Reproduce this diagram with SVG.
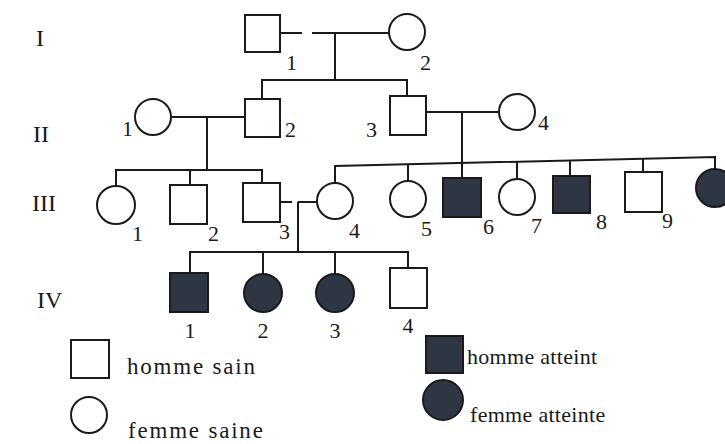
<svg xmlns="http://www.w3.org/2000/svg" width="725" height="444" viewBox="0 0 725 444">
<style>
.s{fill:#fff;stroke:#1a1a1a;stroke-width:2}
.a{fill:#2e3644;stroke:#1a1a1a;stroke-width:2}
.c line,.c polyline{stroke:#1a1a1a;stroke-width:2;fill:none}
text{font-family:"Liberation Serif","Times New Roman",serif;fill:#1a1a1a}
.n{font-size:22px}
.g{font-size:24px}
.l{font-size:23px;letter-spacing:1.8px}
.r{font-size:22px;letter-spacing:0.3px}
</style>
<rect width="725" height="444" fill="#fff"/>
<g id="gen-labels">
<text class="g" x="36" y="46">I</text>
<text class="g" x="33" y="142">II</text>
<text class="g" x="32" y="211">III</text>
<text class="g" x="37" y="308">IV</text>
</g>
<g class="c" id="connectors">
<line x1="280" y1="33" x2="302" y2="33"/>
<line x1="312" y1="33" x2="389" y2="33"/>
<line x1="335" y1="33" x2="335" y2="80"/>
<polyline points="262,99 262,80 407,80 407,96"/>
<line x1="171" y1="117" x2="245" y2="117"/>
<line x1="207" y1="117" x2="207" y2="170"/>
<line x1="426" y1="112" x2="499" y2="112"/>
<line x1="462" y1="112" x2="462" y2="178"/>
<polyline points="116,186 116,170 262,170 262,183"/>
<line x1="190" y1="170" x2="190" y2="185"/>
<line x1="280" y1="202" x2="292" y2="202"/>
<line x1="298" y1="202" x2="317" y2="202"/>
<line x1="298" y1="202" x2="298" y2="252"/>
<polyline points="335,183 335,166 715,157 715,169"/>
<line x1="408" y1="164" x2="408" y2="181"/>
<line x1="517" y1="162" x2="517" y2="179"/>
<line x1="570" y1="161" x2="570" y2="176"/>
<line x1="643" y1="159" x2="643" y2="172"/>
<polyline points="190,273 190,252 408,252 408,268"/>
<line x1="263" y1="252" x2="263" y2="274"/>
<line x1="335" y1="252" x2="335" y2="274"/>
</g>
<g id="I-1"><rect class="s" x="245" y="15" width="35" height="37"/><text class="n" x="286" y="70">1</text></g>
<g id="I-2"><circle class="s" cx="407" cy="32" r="18"/><text class="n" x="420" y="70">2</text></g>
<g id="II-1"><circle class="s" cx="153" cy="117" r="18"/><text class="n" x="122" y="136">1</text></g>
<g id="II-2"><rect class="s" x="245" y="99" width="35" height="38"/><text class="n" x="285" y="137">2</text></g>
<g id="II-3"><rect class="s" x="390" y="96" width="36" height="39"/><text class="n" x="366" y="137">3</text></g>
<g id="II-4"><circle class="s" cx="517" cy="112" r="18"/><text class="n" x="538" y="130">4</text></g>
<g id="III-1"><circle class="s" cx="116" cy="205" r="19"/><text class="n" x="132" y="241">1</text></g>
<g id="III-2"><rect class="s" x="170" y="185" width="37" height="39"/><text class="n" x="208" y="241">2</text></g>
<g id="III-3"><rect class="s" x="243" y="183" width="37" height="39"/><text class="n" x="279" y="239">3</text></g>
<g id="III-4"><circle class="s" cx="335" cy="201" r="18"/><text class="n" x="349" y="238">4</text></g>
<g id="III-5"><circle class="s" cx="408" cy="199" r="18"/><text class="n" x="421" y="236">5</text></g>
<g id="III-6"><rect class="a" x="443" y="178" width="38" height="39"/><text class="n" x="483" y="234">6</text></g>
<g id="III-7"><circle class="s" cx="517" cy="197" r="18"/><text class="n" x="531" y="233">7</text></g>
<g id="III-8"><rect class="a" x="553" y="176" width="37" height="37"/><text class="n" x="596" y="229">8</text></g>
<g id="III-9"><rect class="s" x="625" y="172" width="37" height="40"/><text class="n" x="662" y="228">9</text></g>
<g id="III-10"><circle class="a" cx="715" cy="188" r="19"/></g>
<g id="IV-1"><rect class="a" x="170" y="273" width="38" height="39"/><text class="n" x="190" y="338" text-anchor="middle">1</text></g>
<g id="IV-2"><circle class="a" cx="263" cy="293" r="19"/><text class="n" x="263" y="338" text-anchor="middle">2</text></g>
<g id="IV-3"><circle class="a" cx="335" cy="293" r="19"/><text class="n" x="335" y="338" text-anchor="middle">3</text></g>
<g id="IV-4"><rect class="s" x="390" y="268" width="37" height="40"/><text class="n" x="408" y="333" text-anchor="middle">4</text></g>
<g id="legend">
<rect class="s" x="71" y="340" width="38" height="38"/>
<text class="l" x="127" y="374">homme sain</text>
<circle class="s" cx="89" cy="415" r="18"/>
<text class="l" x="128" y="438">femme saine</text>
<rect class="a" x="426" y="336" width="37" height="37"/>
<text class="r" x="467" y="364">homme atteint</text>
<circle class="a" cx="443" cy="400" r="20"/>
<text class="r" x="470" y="422">femme atteinte</text>
</g>
</svg>
